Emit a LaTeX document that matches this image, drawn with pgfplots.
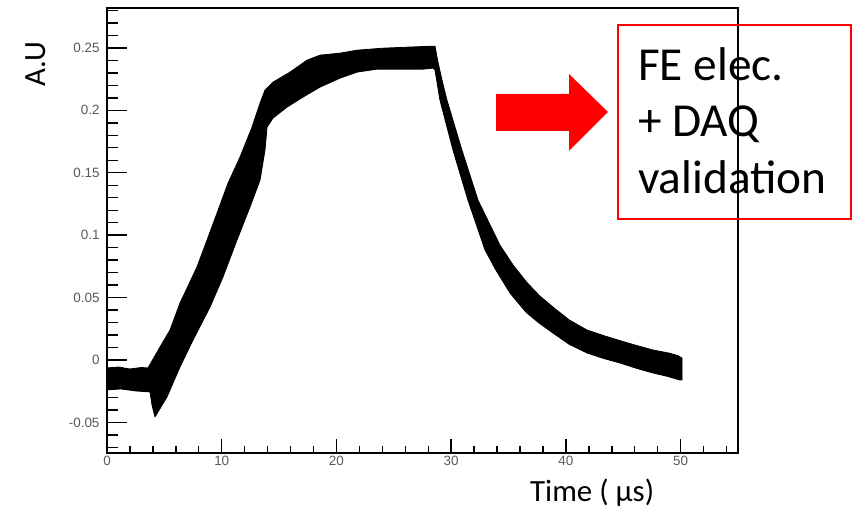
\documentclass[border=0pt]{standalone}
\usepackage{pgfplots}
\pgfplotsset{compat=1.18}
\usepackage{fontspec}
\setmainfont{Carlito}
\newfontfamily\tickfont{Liberation Sans}
\begin{document}
\begin{tikzpicture}[x=1bp,y=1bp]
\path[use as bounding box] (0,0) rectangle (859,512);
\begin{axis}[at={(107bp,59bp)}, anchor=south west, scale only axis,
  width=631bp, height=445bp,
  xmin=0, xmax=55, ymin=-0.0745, ymax=0.282,
  axis line style={line width=1.6bp},
  tick pos=left, tick align=inside,
  xtick={0,10,20,30,40,50}, xticklabels={0,10,20,30,40,50},
  ytick={-0.05,0,0.05,0.1,0.15,0.2,0.25},
  yticklabels={-0.05,0,0.05,0.1,0.15,0.2,0.25},
  minor xtick={2,4,6,8,12,14,16,18,22,24,26,28,32,34,36,38,42,44,46,48,52,54},
  minor ytick={-0.07,-0.06,-0.04,-0.03,-0.02,-0.01,0.01,0.02,0.03,0.04,0.06,0.07,0.08,0.09,0.11,0.12,0.13,0.14,0.16,0.17,0.18,0.19,0.21,0.22,0.23,0.24,0.26,0.27,0.28},
  every tick/.style={black, line width=1.4bp},
  xtick style={/pgfplots/major tick length=13.5bp, /pgfplots/minor tick length=7bp},
  ytick style={/pgfplots/major tick length=20bp, /pgfplots/minor tick length=11bp},
  ticklabel style={font=\tickfont\fontsize{13.5}{13.5}\selectfont, text=black!65},
  yticklabel style={xshift=-4bp},
]
\addplot[fill=black, draw=black, line width=0.8bp, line join=round] coordinates {
(0,-0.0064) (1,-0.0056) (2,-0.0072) (3,-0.0060) (3.57,-0.0064)
(4.62,0.0104) (5.49,0.0240) (6.36,0.0456) (7.84,0.0745) (8.72,0.0961)
(9.59,0.1177) (10.55,0.1417) (11.59,0.1625) (12.64,0.1865) (13.34,0.2058)
(13.77,0.2162) (14.47,0.2226) (15.95,0.2306) (17.43,0.2402) (18.57,0.2442)
(20.31,0.2458) (21.79,0.2482) (24.06,0.2498) (26.15,0.2506) (28.33,0.2514)
(28.59,0.2514)
(28.85,0.2386) (29.20,0.2242) (29.63,0.2082) (30.94,0.1680) (32.34,0.1280)
(34.25,0.0920) (35.40,0.0760) (36.61,0.0620) (37.70,0.0515) (38.87,0.0424)
(40.30,0.0320) (41.84,0.0240) (43.30,0.0195) (44.71,0.0155) (46.20,0.0115)
(47.59,0.0080) (49.00,0.0055) (49.77,0.0035) (50.12,0.0015) (50.12,-0.0160)
(49.94,-0.0160) (48.80,-0.0130) (47.59,-0.0104) (46.20,-0.0068) (44.71,-0.0024)
(43.30,0.0012) (41.84,0.0056) (40.30,0.0125) (38.87,0.0216) (37.60,0.0300)
(36.50,0.0385) (35.13,0.0536) (33.90,0.0720) (32.95,0.0881) (31.46,0.1281)
(30.16,0.1681) (29.02,0.2082) (28.59,0.2322) (28.42,0.2338)
(27.54,0.2330) (25.54,0.2330) (23.53,0.2330) (21.79,0.2306)
(20.31,0.2258) (18.57,0.2186) (17.08,0.2106) (15.69,0.2026) (14.47,0.1938)
(13.95,0.1865) (13.77,0.1681) (13.34,0.1441) (12.46,0.1225) (11.33,0.0961)
(10.11,0.0665) (8.98,0.0424) (7.50,0.0160) (6.36,-0.0056) (5.23,-0.0296)
(4.18,-0.0456) (3.92,-0.0360) (3.75,-0.0256)
(2.5,-0.0248) (1.2,-0.0232) (0,-0.0240)
} -- cycle;
\end{axis}
\node[rotate=90, anchor=base, font=\fontsize{31}{31}\selectfont] at (45,448) {A.U};
\node[anchor=base west, font=\fontsize{31}{31}\selectfont, inner sep=0pt] at (530,10) {Time ( µs)};
\fill[red] (496,418) -- (569,418) -- (569,438) -- (608,400) -- (569,361) -- (569,381) -- (496,381) -- cycle;
\draw[red, line width=1.3bp] (618,293) rectangle (851,487);
\node[anchor=base west, font=\fontsize{47.5}{47.5}\selectfont, inner sep=0pt] at (638,431) {FE elec.};
\node[anchor=base west, font=\fontsize{47.5}{47.5}\selectfont, inner sep=0pt] at (638,375) {+ DAQ};
\node[anchor=base west, font=\fontsize{47.5}{47.5}\selectfont, inner sep=0pt] at (638,318) {validation};
\end{tikzpicture}
\end{document}
